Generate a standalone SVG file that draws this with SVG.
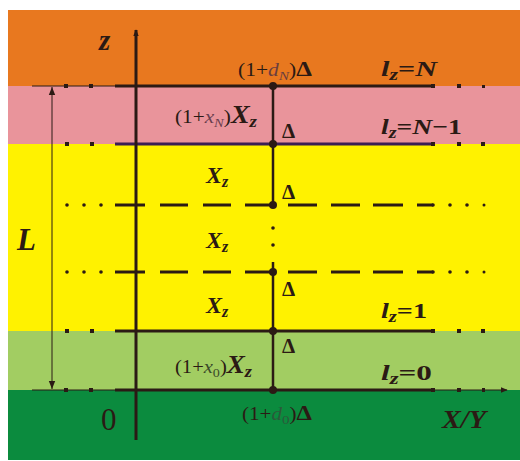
<svg xmlns="http://www.w3.org/2000/svg" width="520" height="461" viewBox="0 0 520 461">
<defs>
<style>
.t{font-family:"Liberation Serif","Times New Roman",serif;fill:#2b1a14}
.bi{font-weight:bold;font-style:italic}
.b{font-weight:bold}
.i{font-style:italic}
.sm{font-size:18px}
.lvl{font-size:22px}
.xz{font-size:24px}
.d{font-size:21px;font-weight:bold}
.solid{stroke:#2b1a14;stroke-width:3;fill:none}
.thin{stroke:#2b1a14;stroke-width:1;fill:none}
.dash{stroke:#2b1a14;stroke-width:3;fill:none}
.dot{fill:#2b1a14}
</style>
<marker id="ah" viewBox="0 0 10 10" refX="9" refY="5" markerWidth="7" markerHeight="7" orient="auto" markerUnits="userSpaceOnUse">
<path d="M0,1 L10,5 L0,9 Z" fill="#2b1a14"/>
</marker>
<marker id="ahs" viewBox="0 0 10 10" refX="10" refY="5" markerWidth="8" markerHeight="8" orient="auto-start-reverse" markerUnits="userSpaceOnUse">
<path d="M0,1 L10,5 L0,9 Z" fill="#2b1a14"/>
</marker>
</defs>
<rect width="520" height="461" fill="#ffffff"/>
<g id="bands">
<rect x="8" y="10" width="512" height="76" fill="#e8781f"/>
<rect x="8" y="86" width="512" height="58" fill="#e9949b"/>
<rect x="8" y="144" width="512" height="187" fill="#fff200"/>
<rect x="8" y="331" width="512" height="59" fill="#a2cd62"/>
<rect x="8" y="390" width="512" height="70" fill="#0b8b3e"/>
</g>
<g id="connectors">
<line class="solid" x1="115" y1="86" x2="433" y2="86"/>
<line class="solid" x1="115" y1="144" x2="433" y2="144" style="stroke:#3b1f55"/>
<line class="solid" x1="115" y1="331" x2="433" y2="331"/>
<line class="solid" x1="115" y1="390" x2="433" y2="390"/>
<path class="dash" d="M115,205 H145 M160,205 H188 M203,205 H231 M245,205 H270 M288,205 H317 M331,205 H360 M373,205 H403 M417,205 H433"/>
<path class="dash" d="M115,272 H145 M160,272 H188 M203,272 H231 M245,272 H270 M288,272 H317 M331,272 H360 M373,272 H403 M417,272 H433"/>
<line class="thin" x1="32" y1="86" x2="115" y2="86"/>
<line class="thin" x1="32" y1="390" x2="115" y2="390"/>
<line class="thin" x1="433" y1="390" x2="507" y2="390" marker-end="url(#ah)"/>
<g class="dot">
<rect x="64" y="84" width="4" height="4"/><rect x="89" y="84" width="4" height="4"/>
<rect x="65" y="142" width="4" height="4"/><rect x="90" y="142" width="4" height="4"/>
<rect x="65" y="329" width="4" height="4"/><rect x="90" y="329" width="4" height="4"/>
<rect x="64" y="388" width="4" height="4"/><rect x="89" y="388" width="4" height="4"/>
<circle cx="67" cy="205" r="1.8"/><circle cx="84" cy="205" r="1.8"/><circle cx="101" cy="205" r="1.8"/>
<circle cx="67" cy="272" r="1.8"/><circle cx="84" cy="272" r="1.8"/><circle cx="101" cy="272" r="1.8"/>
<rect x="431" y="84" width="4" height="4"/><rect x="457" y="84" width="4" height="4"/><rect x="482" y="85" width="3" height="3"/>
<rect x="431" y="142" width="4" height="4"/><rect x="457" y="142" width="4" height="4"/><rect x="481" y="142" width="4" height="4"/>
<rect x="431" y="329" width="4" height="4"/><rect x="457" y="329" width="4" height="4"/><rect x="481" y="329" width="4" height="4"/>
<rect x="431" y="388" width="4" height="4"/><rect x="457" y="388" width="4" height="4"/><rect x="482" y="388" width="3" height="4"/>
<circle cx="433" cy="205" r="1.8"/><circle cx="450" cy="205" r="1.8"/><circle cx="467" cy="205" r="1.8"/><circle cx="484" cy="205" r="1.5"/>
<circle cx="433" cy="272" r="1.8"/><circle cx="450" cy="272" r="1.8"/><circle cx="467" cy="272" r="1.8"/><circle cx="484" cy="272" r="1.5"/>
</g>
<line x1="136" y1="440" x2="136" y2="30" stroke="#2b1a14" stroke-width="3" marker-end="url(#ah)"/>
<line class="thin" x1="52" y1="87" x2="52" y2="389" marker-start="url(#ahs)" marker-end="url(#ahs)"/>
<line x1="273" y1="86" x2="273" y2="205" stroke="#2b1a14" stroke-width="2.5"/>
<line x1="273" y1="262" x2="273" y2="390" stroke="#2b1a14" stroke-width="2.5"/>
<g class="dot">
<circle cx="273" cy="86" r="4"/><circle cx="273" cy="144" r="4"/><circle cx="273" cy="205" r="4"/>
<circle cx="273" cy="272" r="4"/><circle cx="273" cy="331" r="4"/><circle cx="273" cy="390" r="4"/>
<circle cx="273" cy="228" r="1.8"/><circle cx="273" cy="245" r="1.8"/>
</g>
</g>
<g id="labels">
<text class="t bi" x="99" y="50" font-size="29">z</text>
<text class="t" x="17" y="250" font-size="31" font-weight="bold" font-style="italic">L</text>
<text class="t" x="101" y="430" font-size="31" fill="#1f3a1f">0</text>
<text class="t bi" x="442" y="428" font-size="26" textLength="44" lengthAdjust="spacingAndGlyphs">X/Y</text>

<text class="t" x="238" y="76" textLength="74" lengthAdjust="spacingAndGlyphs"><tspan class="sm">(1+</tspan><tspan class="sm i" fill="#6b3e3e">d</tspan><tspan class="i" font-size="13" dy="4" fill="#6b3e3e">N</tspan><tspan class="sm" dy="-4">)</tspan><tspan class="d">Δ</tspan></text>
<text class="t" x="175" y="123" textLength="82" lengthAdjust="spacingAndGlyphs"><tspan font-size="19">(1+</tspan><tspan class="i" font-size="19" fill="#6b3e4e">x</tspan><tspan class="i" font-size="13" dy="4" fill="#6b3e4e">N</tspan><tspan font-size="19" dy="-4">)</tspan><tspan class="bi" font-size="25">X</tspan><tspan class="bi" font-size="17" dy="4">z</tspan></text>
<text class="t" x="175" y="373" textLength="77" lengthAdjust="spacingAndGlyphs"><tspan font-size="19">(1+</tspan><tspan class="i" font-size="19" fill="#3a4a2a">x</tspan><tspan font-size="13" dy="4" fill="#3a4a2a">0</tspan><tspan font-size="19" dy="-4">)</tspan><tspan class="bi" font-size="25">X</tspan><tspan class="bi" font-size="17" dy="4">z</tspan></text>
<text class="t" x="242" y="420" textLength="70" lengthAdjust="spacingAndGlyphs"><tspan class="sm">(1+</tspan><tspan class="sm i" fill="#2a5a3a">d</tspan><tspan font-size="13" dy="4" fill="#2a5a3a">0</tspan><tspan class="sm" dy="-4">)</tspan><tspan class="d">Δ</tspan></text>

<text class="t" x="206" y="183"><tspan class="bi xz">X</tspan><tspan class="bi" font-size="16" dy="4">z</tspan></text>
<text class="t" x="206" y="248"><tspan class="bi xz">X</tspan><tspan class="bi" font-size="16" dy="4">z</tspan></text>
<text class="t" x="206" y="313"><tspan class="bi xz">X</tspan><tspan class="bi" font-size="16" dy="4">z</tspan></text>

<text class="t d" x="282" y="138">Δ</text>
<text class="t d" x="282" y="199">Δ</text>
<text class="t d" x="282" y="296">Δ</text>
<text class="t d" x="282" y="353">Δ</text>

<text class="t" x="381" y="76" textLength="56" lengthAdjust="spacingAndGlyphs"><tspan class="bi lvl">l</tspan><tspan class="bi" font-size="16" dy="4">z</tspan><tspan class="b lvl" dy="-4">=</tspan><tspan class="bi lvl">N</tspan></text>
<text class="t" x="381" y="134" textLength="81" lengthAdjust="spacingAndGlyphs"><tspan class="bi lvl">l</tspan><tspan class="bi" font-size="16" dy="4">z</tspan><tspan class="b lvl" dy="-4">=</tspan><tspan class="bi lvl">N</tspan><tspan class="b lvl">−1</tspan></text>
<text class="t" x="381" y="318" textLength="46" lengthAdjust="spacingAndGlyphs"><tspan class="bi lvl">l</tspan><tspan class="bi" font-size="16" dy="4">z</tspan><tspan class="b lvl" dy="-4">=</tspan><tspan class="b lvl">1</tspan></text>
<text class="t" x="381" y="380" textLength="51" lengthAdjust="spacingAndGlyphs"><tspan class="bi lvl">l</tspan><tspan class="bi" font-size="16" dy="4">z</tspan><tspan class="b lvl" dy="-4">=</tspan><tspan class="b lvl">0</tspan></text>
</g>
</svg>
